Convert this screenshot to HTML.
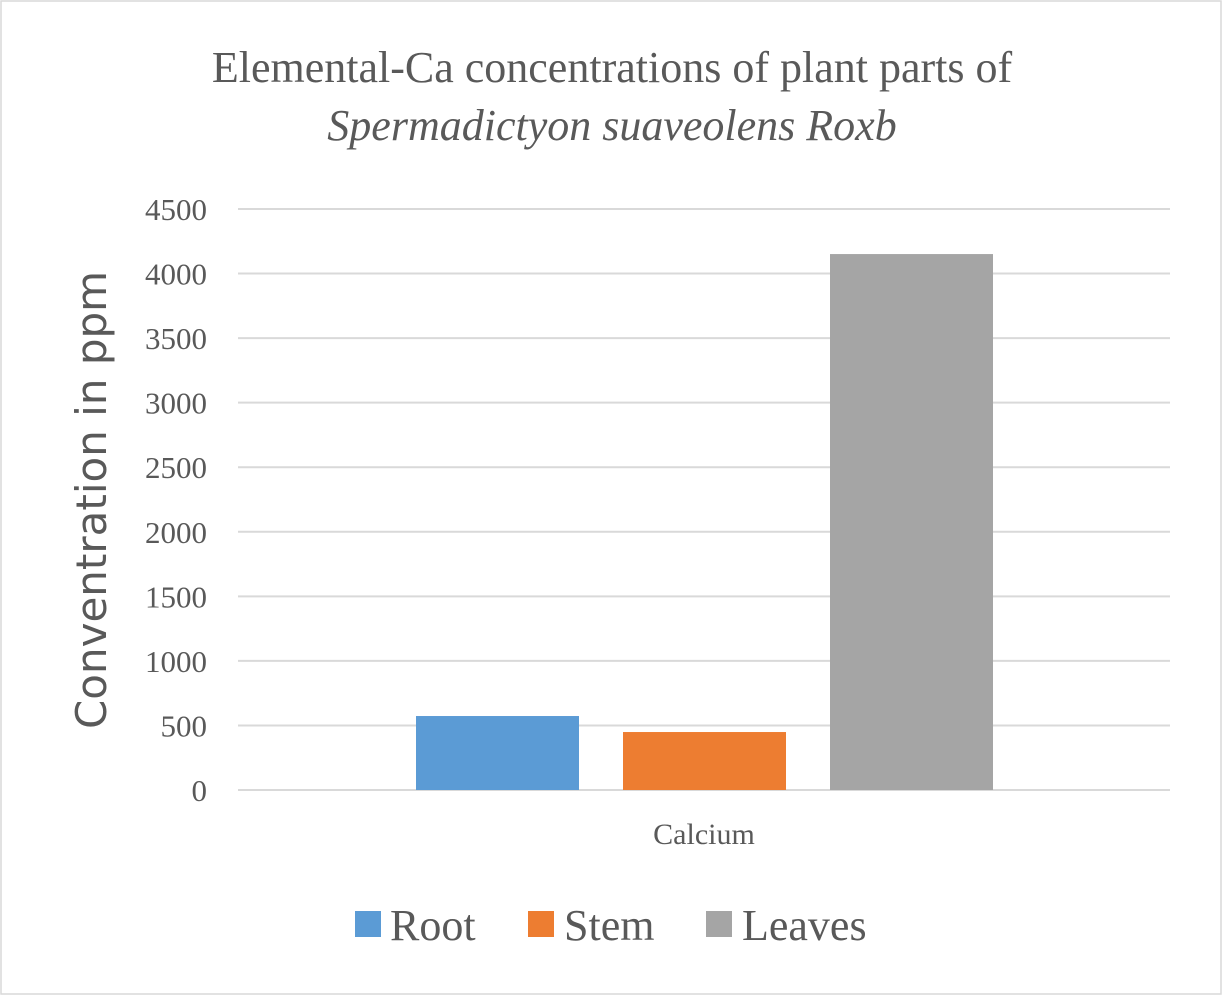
<!DOCTYPE html>
<html><head><meta charset="utf-8"><style>
html,body{margin:0;padding:0;background:#fff;}
svg{display:block;}
text{font-family:"Liberation Serif",serif;fill:#595959;}
</style></head><body>
<svg width="1222" height="995" viewBox="0 0 1222 995">
<rect x="1" y="1" width="1220" height="993" fill="#fff" stroke="#d9d9d9" stroke-width="1.5"/>
<text x="612" y="82" font-size="44" text-anchor="middle">Elemental-Ca concentrations of plant parts of</text>
<text x="612" y="140" font-size="44" font-style="italic" text-anchor="middle">Spermadictyon suaveolens Roxb</text>
<text transform="translate(106,500) rotate(-90)" font-size="42" text-anchor="middle" style="font-family:'DejaVu Sans',sans-serif">Conventration in ppm</text>
<g id="grid"></g>
<g id="bars"></g>
<text x="704" y="844" font-size="30" text-anchor="middle">Calcium</text>
<g>
<rect x="355" y="911" width="26" height="26" fill="#5b9bd5"/>
<text x="390" y="940" font-size="44">Root</text>
<rect x="528" y="911" width="26" height="26" fill="#ed7d31"/>
<text x="564" y="940" font-size="44">Stem</text>
<rect x="706" y="911" width="26" height="26" fill="#a5a5a5"/>
<text x="742" y="940" font-size="44">Leaves</text>
</g>
</svg>
<script>
const series=["Root","Stem","Leaves"];
const values=[573,449,4151];
const colors=["#5b9bd5","#ed7d31","#a5a5a5"];
const ticks=[0,500,1000,1500,2000,2500,3000,3500,4000,4500];
const NS="http://www.w3.org/2000/svg";
const y0=790,y1=209,vmax=4500,plotL=238,plotR=1170;
function y(v){return y0-(v/vmax)*(y0-y1);}
const grid=document.getElementById('grid');
ticks.forEach(t=>{
 const l=document.createElementNS(NS,'line');
 l.setAttribute('x1',plotL);l.setAttribute('x2',plotR);
 l.setAttribute('y1',y(t));l.setAttribute('y2',y(t));
 l.setAttribute('stroke','#d9d9d9');l.setAttribute('stroke-width','2');
 
 
 grid.appendChild(l);
 const tx=document.createElementNS(NS,'text');
 tx.setAttribute('x',207);tx.setAttribute('y',y(t)+11);
 tx.setAttribute('text-anchor','end');tx.setAttribute('font-size','31');
 tx.textContent=t;
 
 
 grid.appendChild(tx);
});
const bars=document.getElementById('bars');
const bw=163,gap=44,start=416;
values.forEach((v,i)=>{
 const r=document.createElementNS(NS,'rect');
 r.setAttribute('x',start+i*(bw+gap));
 r.setAttribute('y',y(v));
 r.setAttribute('width',bw);
 r.setAttribute('height',y0-y(v));
 r.setAttribute('fill',colors[i]);
 
 
 bars.appendChild(r);
});
</script>
</body></html>
